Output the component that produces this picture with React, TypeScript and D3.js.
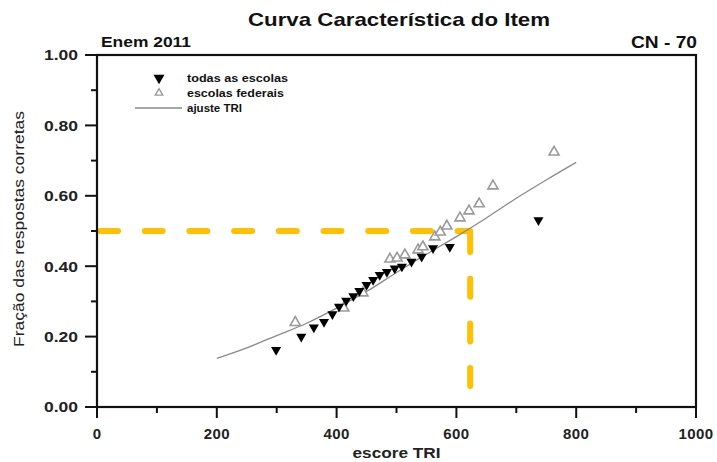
import React from 'react';
import * as d3 from 'd3';

// todas as escolas (filled, down triangles)
const todasX = [299, 341, 362, 379, 393, 404, 416, 428, 438, 450, 461, 472, 484, 497, 509, 525, 542, 561, 589, 737];
const todasY = [0.162, 0.2, 0.226, 0.242, 0.264, 0.285, 0.302, 0.315, 0.33, 0.347, 0.361, 0.375, 0.384, 0.394, 0.399, 0.413, 0.427, 0.451, 0.455, 0.531];

// escolas federais (open, up triangles)
const federaisX = [331, 412, 444, 489, 501, 514, 536, 544, 564, 573, 584, 606, 621, 638, 661, 763];
const federaisY = [0.24, 0.281, 0.324, 0.42, 0.423, 0.432, 0.446, 0.455, 0.483, 0.497, 0.514, 0.537, 0.557, 0.577, 0.628, 0.724];

// ajuste TRI curve
const ajusteX = [200, 250, 300, 350, 400, 450, 500, 550, 600, 650, 700, 750, 800];
const ajusteY = [0.138, 0.168, 0.203, 0.238, 0.281, 0.328, 0.382, 0.434, 0.484, 0.537, 0.593, 0.645, 0.695];

const xTicks = [0, 200, 400, 600, 800, 1000];
const xMinor = [100, 300, 500, 700, 900];
const yTicks = [0, 0.2, 0.4, 0.6, 0.8, 1.0];
const yMinor = [0.1, 0.3, 0.5, 0.7, 0.9];

const refScore = 623;
const refFrac = 0.5;

const W = 717;
const H = 462;
const margin = { top: 55, right: 21, bottom: 55, left: 97 };
const font = '"Liberation Sans", Arial, sans-serif';

const App: React.FC = () => {
  const iw = W - margin.left - margin.right;
  const ih = H - margin.top - margin.bottom;

  const x = d3.scaleLinear().domain([0, 1000]).range([0, iw]);
  const y = d3.scaleLinear().domain([0, 1]).range([ih, 0]);

  const line = d3.line<number>()
    .x((_, i) => x(ajusteX[i]))
    .y(d => y(d))
    .curve(d3.curveMonotoneX);

  const tri = d3.symbol(d3.symbolTriangle, 44)() || '';
  const triBig = d3.symbol(d3.symbolTriangle, 52)() || '';
  const triSmall = d3.symbol(d3.symbolTriangle, 24)() || '';

  return (
    <svg width={W} height={H} style={{ position: 'absolute', left: 0, top: 0, background: '#fff' }} fontFamily={font}>
      <text x={399} y={26} textAnchor="middle" fontSize={19} fontWeight="bold" fill="#111"
        textLength={302} lengthAdjust="spacingAndGlyphs">
        Curva Característica do Item
      </text>
      <text x={101} y={47} fontSize={15} fontWeight="bold" fill="#111"
        textLength={90} lengthAdjust="spacingAndGlyphs">Enem 2011</text>
      <text x={697} y={48} textAnchor="end" fontSize={16} fontWeight="bold" fill="#111"
        textLength={66} lengthAdjust="spacingAndGlyphs">CN - 70</text>

      <g transform={`translate(${margin.left},${margin.top})`}>
        {/* reference lines */}
        <line x1={x(0) + 3} x2={x(refScore)} y1={y(refFrac)} y2={y(refFrac)}
          stroke="#FFC000" strokeWidth={6} strokeLinecap="round" strokeDasharray="18 26.7" />
        <line x1={x(refScore)} x2={x(refScore)} y1={y(refFrac) + 3} y2={y(0)}
          stroke="#FFC000" strokeWidth={6} strokeLinecap="round" strokeDasharray="18 26.7" />

        {/* fit curve */}
        <path d={line(ajusteY) || ''} fill="none" stroke="#8a8a8a" strokeWidth={1.3} />

        {/* federal schools */}
        {federaisX.map((v, i) => (
          <path key={'f' + i} d={tri} transform={`translate(${x(v)},${y(federaisY[i])})`}
            fill="#fff" stroke="#9a9a9a" strokeWidth={1.6} />
        ))}

        {/* all schools */}
        {todasX.map((v, i) => (
          <path key={'t' + i} d={tri} transform={`translate(${x(v)},${y(todasY[i])}) rotate(180)`}
            fill="#000" />
        ))}

        {/* frame */}
        <rect x={0} y={0} width={iw} height={ih} fill="none" stroke="#111" strokeWidth={2.2} />

        {/* x axis ticks */}
        {xTicks.map(t => (
          <g key={'xt' + t}>
            <line x1={x(t)} x2={x(t)} y1={ih} y2={ih + 11} stroke="#111" strokeWidth={2} />
            <text x={x(t)} y={ih + 32} textAnchor="middle" fontSize={15} fontWeight="bold" fill="#222"
              letterSpacing={0.4}>{t}</text>
          </g>
        ))}
        {xMinor.map(t => (
          <line key={'xm' + t} x1={x(t)} x2={x(t)} y1={ih} y2={ih + 6} stroke="#111" strokeWidth={2} />
        ))}

        {/* y axis ticks */}
        {yTicks.map(t => (
          <g key={'yt' + t}>
            <line x1={-12} x2={0} y1={y(t)} y2={y(t)} stroke="#111" strokeWidth={2} />
            <text x={-19} y={y(t)} dy="0.36em" textAnchor="end" fontSize={15} fontWeight="bold" fill="#222"
              textLength={34} lengthAdjust="spacingAndGlyphs">{t.toFixed(2)}</text>
          </g>
        ))}
        {yMinor.map(t => (
          <line key={'ym' + t} x1={-6} x2={0} y1={y(t)} y2={y(t)} stroke="#111" strokeWidth={2} />
        ))}

        {/* axis titles */}
        <text x={iw / 2} y={ih + 51} textAnchor="middle" fontSize={15} fontWeight="bold" fill="#222"
          textLength={88} lengthAdjust="spacingAndGlyphs">escore TRI</text>
        <text transform={`translate(${-73},${ih / 2 - 2}) rotate(-90)`} textAnchor="middle" fontSize={15} fill="#222"
          textLength={236} lengthAdjust="spacingAndGlyphs">
          Fração das respostas corretas
        </text>

        {/* legend */}
        <g transform="translate(62,23)">
          <path d={triBig} transform="translate(0,0) rotate(180)" fill="#000" />
          <text x={28} y={0} dy="0.35em" fontSize={10.5} fontWeight="bold" fill="#111"
            textLength={101} lengthAdjust="spacingAndGlyphs">todas as escolas</text>
          <path d={triSmall} transform="translate(0,15)" fill="#fff" stroke="#9a9a9a" strokeWidth={1.4} />
          <text x={28} y={15} dy="0.35em" fontSize={10.5} fontWeight="bold" fill="#111"
            textLength={97} lengthAdjust="spacingAndGlyphs">escolas federais</text>
          <line x1={-24} x2={23} y1={30} y2={30} stroke="#8a8a8a" strokeWidth={1.6} />
          <text x={28} y={30} dy="0.35em" fontSize={10.5} fontWeight="bold" fill="#111"
            textLength={55} lengthAdjust="spacingAndGlyphs">ajuste TRI</text>
        </g>
      </g>
    </svg>
  );
};

export default App;
